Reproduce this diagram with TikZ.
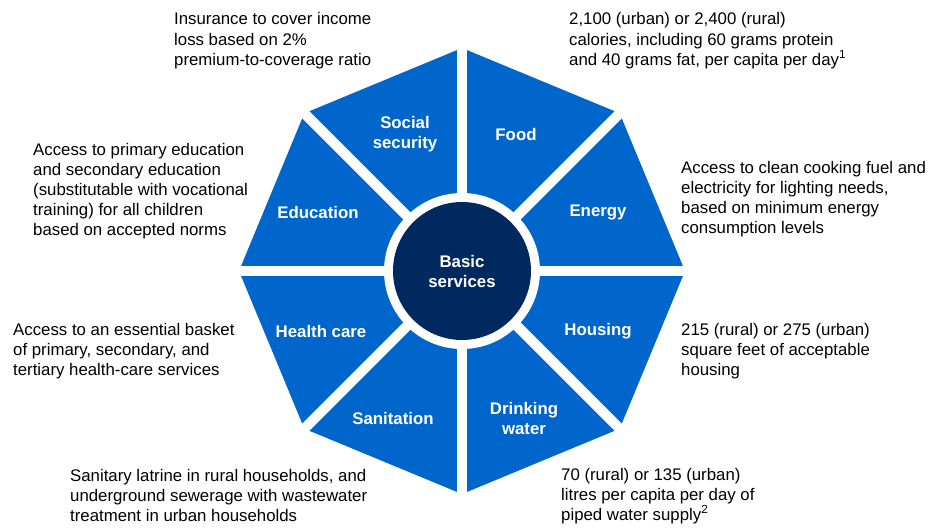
\documentclass[tikz,border=0pt]{standalone}
\usepackage{fontspec}
\setmainfont{Liberation Sans}
\usepackage{tikz}
\usetikzlibrary{positioning}
\definecolor{segblue}{RGB}{0,102,204}
\definecolor{navy}{RGB}{0,41,96}

\begin{document}
\begin{tikzpicture}[x=1pt,y=-1pt]
	\tikzstyle{seg}=[fill=segblue]
	\tikzstyle{gap}=[draw=white,line width=10pt]
	\tikzstyle{segtext}=[text=white,font=\fontsize{16.8}{20}\selectfont\bfseries,align=center,inner sep=0pt]
	\tikzstyle{desc}=[font=\fontsize{16.8}{20}\selectfont,align=left,anchor=base west,inner sep=0pt]
	\useasboundingbox (0,0) rectangle (928,527);
	\coordinate (c) at (462,271);
		% octagon wedges and white gaps
		\foreach \a in {0,45,...,315}
			\fill[seg] (c) -- +(\a:223pt) -- +(\a+45:223pt) -- cycle;
		\foreach \a in {0,45,...,315}
			\draw[gap] (c) -- +(\a:240pt);
		\fill[white] (c) circle (78pt);
		\node[circle,fill=navy,minimum size=138pt,segtext] (basic) at (c) {Basic\\services};
		% wedge names
		\node[segtext] (social) at (405,134) {Social\\security};
		\node[segtext] (food) at (516,134) {Food};
		\node[segtext] (energy) at (598,212) {Energy};
		\node[segtext] (housing) at (598,331) {Housing};
		\node[segtext] (water) at (524,418) {Drinking\\water};
		\node[segtext] (sanitation) at (393,418) {Sanitation};
		\node[segtext] (health) at (321,331) {Health care};
		\node[segtext] (education) at (318,212) {Education};
		% descriptions (anchored at the last line)
		\node[desc] (socialtxt) at (174,65) {Insurance to cover income\\loss based on 2\%\\premium-to-coverage ratio};
		\node[desc] (foodtxt) at (569,65) {2,100 (urban) or 2,400 (rural)\\calories, including 60 grams protein\\and 40 grams fat, per capita per day\textsuperscript{1}};
		\node[desc] (energytxt) at (681,233) {Access to clean cooking fuel and\\electricity for lighting needs,\\based on minimum energy\\consumption levels};
		\node[desc] (housingtxt) at (681,375) {215 (rural) or 275 (urban)\\square feet of acceptable\\housing};
		\node[desc] (watertxt) at (561,520) {70 (rural) or 135 (urban)\\litres per capita per day of\\piped water supply\textsuperscript{2}};
		\node[desc] (sanitationtxt) at (70,521) {Sanitary latrine in rural households, and\\underground sewerage with wastewater\\treatment in urban households};
		\node[desc] (healthtxt) at (13,375) {Access to an essential basket\\of primary, secondary, and\\tertiary health-care services};
		\node[desc] (educationtxt) at (33,235) {Access to primary education\\and secondary education\\(substitutable with vocational\\training) for all children\\based on accepted norms};
\end{tikzpicture}
\end{document}
